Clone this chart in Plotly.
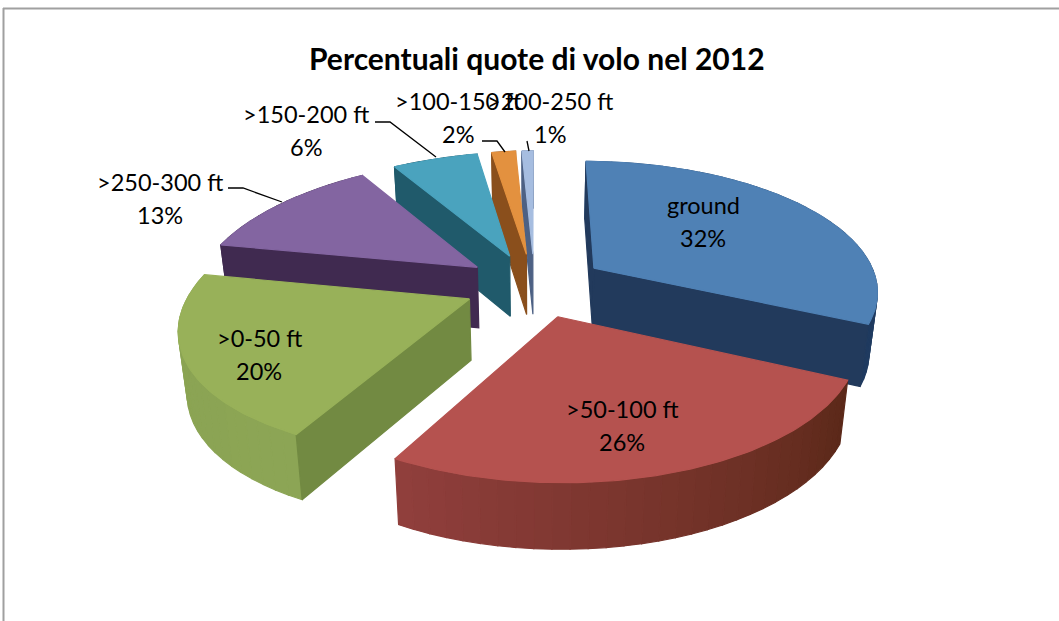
import math
import plotly.graph_objects as go

title = "Percentuali quote di volo nel 2012"
categories = ["ground", ">50-100 ft", ">0-50 ft", ">250-300 ft", ">150-200 ft", ">100-150 ft", ">200-250 ft"]
values = [32, 26, 20, 13, 6, 2, 1]
top_colors = ["#4F81B5", "#B5524F", "#98B159", "#8365A1", "#4AA3BE", "#E3913F", "#A6BDE0"]
cut_colors = ["#223A5C", "#6E2F2D", "#728A42", "#402A50", "#205A6B", "#8A4F1C", "#4D6184"]
arc_colors_a = ["#2C5583", "#5A2818", "#8CA555", "#402A50", "#205A6B", "#8A4F1C", "#4D6184"]
arc_colors_b = ["#1F3A5F", "#913F3D", "#8AA352", "#402A50", "#205A6B", "#8A4F1C", "#4D6184"]
rim_bulge = [-0.005, 0.0, 0.01, 0.0, 0.0, 0.0, 0.0]
rim_xscale = [(1, 1), (1, 1), (1, 0.965), (0.97, 0.92), (0.905, 0.8), (0.8, 0.8), (0.75, 0.75)]
draw_order = [6, 5, 4, 3, 0, 2, 1]
label_pos = [(703, 205), (622, 409), (259, 338), (160, 182), (306, 114), (458, 101), (550, 101)]
pct_offset = 33
leaders = {
    3: [(228, 188), (243, 188), (282, 202)],
    4: [(375, 122), (390, 122), (436, 157)],
    5: [(482, 141), (497, 141), (505, 152)],
    6: [(527, 141), (529, 151)],
}

CX, CY, RX, RY, P, EXPL = 535, 285, 285, 128.5, 0.158, 0.25


def project(X, Y, drop=False):
    s = 1 / (1 - P * Y)
    x = X * s * RX
    y = Y * s * RY
    if drop:
        return CX + x * 0.975, CY + y + 38 + 23 * s
    return CX + x, CY + y


def hexmix(a, b, f):
    ca = [int(a[i:i + 2], 16) for i in (1, 3, 5)]
    cb = [int(b[i:i + 2], 16) for i in (1, 3, 5)]
    return "#%02x%02x%02x" % tuple(round(u + (v - u) * f) for u, v in zip(ca, cb))


def poly(fig, pts, color, name):
    fig.add_trace(go.Scatter(
        x=[p[0] for p in pts] + [pts[0][0]], y=[p[1] for p in pts] + [pts[0][1]],
        mode="lines", fill="toself", fillcolor=color, line=dict(color=color, width=1.2),
        hoverinfo="skip", name=name, showlegend=False))


fig = go.Figure()
total = sum(values)
cum = 0
spans = []
for v in values:
    spans.append((cum / total * 360, (cum + v) / total * 360))
    cum += v

for i in draw_order:
    t0, t1 = spans[i]
    tm = math.radians((t0 + t1) / 2)
    ox, oy = EXPL * math.sin(tm), -EXPL * math.cos(tm)

    def w(t):
        a = math.radians(t)
        f = (t - t0) / (t1 - t0)
        r = 1.0 + rim_bulge[i] * math.sin(math.pi * f)
        xf = rim_xscale[i][0] + (rim_xscale[i][1] - rim_xscale[i][0]) * f
        return ox + xf * r * math.sin(a), oy - r * math.cos(a)

    name = categories[i]
    n = max(2, int((t1 - t0) / 3))
    ts = [t0 + (t1 - t0) * k / n for k in range(n + 1)]
    for k in range(n):
        a, b = ts[k], ts[k + 1]
        color = hexmix(arc_colors_a[i], arc_colors_b[i], (k + 0.5) / n)
        poly(fig, [project(*w(a)), project(*w(b)), project(*w(b), True), project(*w(a), True)], color, name)
    if math.sin(math.radians(t0)) <= 0.01:
        poly(fig, [project(ox, oy), project(*w(t0)), project(*w(t0), True), project(ox, oy, True)], cut_colors[i], name)
    if math.sin(math.radians(t1)) >= 0:
        poly(fig, [project(ox, oy), project(*w(t1)), project(*w(t1), True), project(ox, oy, True)], cut_colors[i], name)
    n2 = max(3, int(t1 - t0))
    rim = [project(*w(t0 + (t1 - t0) * k / n2)) for k in range(n2 + 1)]
    poly(fig, [project(ox, oy)] + rim, top_colors[i], name)

for idx, pts in leaders.items():
    fig.add_trace(go.Scatter(x=[p[0] for p in pts], y=[p[1] for p in pts], mode="lines",
                             line=dict(color="#000000", width=1.3), hoverinfo="skip", showlegend=False))

FONT = "Lato"
anns = [dict(x=537, y=58, text="<b>%s</b>" % title, showarrow=False, xref="x", yref="y",
             font=dict(family=FONT, size=30, color="#000000"))]
for name, v, (lx, ly) in zip(categories, values, label_pos):
    anns.append(dict(x=lx, y=ly, text=name, showarrow=False, xref="x", yref="y",
                     font=dict(family=FONT, size=23.5, color="#000000")))
    anns.append(dict(x=lx, y=ly + pct_offset, text="%d%%" % v, showarrow=False, xref="x", yref="y",
                     font=dict(family=FONT, size=23.5, color="#000000")))

fig.update_layout(
    width=1059, height=621, margin=dict(l=0, r=0, t=0, b=0),
    paper_bgcolor="#FFFFFF", plot_bgcolor="#FFFFFF", showlegend=False,
    xaxis=dict(range=[0, 1059], visible=False, fixedrange=True),
    yaxis=dict(range=[621, 0], visible=False, fixedrange=True),
    annotations=anns,
    shapes=[
        dict(type="line", xref="x", yref="y", x0=3, y0=8.5, x1=1059, y1=8.5, line=dict(color="#A0A0A0", width=2)),
        dict(type="line", xref="x", yref="y", x0=3.5, y0=8, x1=3.5, y1=621, line=dict(color="#A0A0A0", width=2)),
    ],
)
fig.write_html("out.html", post_script="document.body.style.margin='0';document.body.style.overflow='hidden';",
               config={"displayModeBar": False})
